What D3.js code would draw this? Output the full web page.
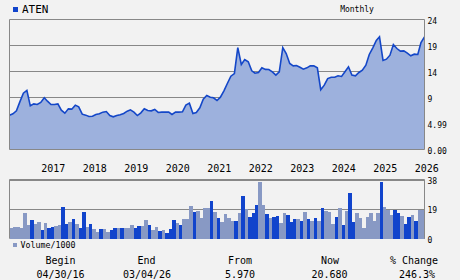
<!DOCTYPE html>
<html>
<head>
<meta charset="utf-8">
<script src="https://cdnjs.cloudflare.com/ajax/libs/d3/7.8.5/d3.min.js"></script>
<style>
  body { margin: 0; background: #f2f2f2; }
  text { font-family: "DejaVu Sans Mono", monospace; fill: #000; }
</style>
</head>
<body>
<svg id="chart" width="460" height="280"></svg>
<script>
// ---- data ----
const ticker = "ATEN";
const period = "Monthly";
const firstMonth = new Date(2016, 3, 1);   // Apr 2016

// month-end closes, Apr 2016 .. Mar 2026 plus last point
const prices = [
  6.28, 6.48, 6.94, 8.33, 9.83, 10.35, 7.72, 8.02, 7.92, 8.23,
  8.95, 8.43, 7.92, 7.92, 8.02, 7.05, 6.58, 7.25, 7.2, 7.82,
  7.56, 6.43, 6.28, 6.07, 6.12, 6.38, 6.48, 6.74, 6.84, 6.22,
  6.02, 6.22, 6.33, 6.53, 6.89, 7.1, 6.74, 6.22, 6.64, 7.25,
  7.0, 6.94, 7.15, 6.69, 6.74, 6.74, 6.74, 6.38, 6.74, 6.74,
  6.79, 7.82, 8.13, 6.53, 6.69, 7.41, 8.74, 9.38, 9.06, 8.95,
  8.54, 9.06, 10.28, 11.69, 13.1, 13.6, 18.6, 15.35, 16.3, 15.86,
  14.13, 13.68, 13.81, 14.7, 14.4, 14.38, 13.94, 13.29, 13.94, 18.6,
  17.46, 15.54, 15.09, 15.15, 14.83, 14.45, 14.7, 15.09, 15.09, 14.7,
  10.5, 11.37, 12.65, 12.9, 12.9, 13.17, 13.04, 13.94, 14.9, 13.3,
  13.17, 13.81, 14.26, 15.22, 17.27, 18.55, 19.96, 20.67, 16.12, 16.37,
  17.14, 19.19, 18.42, 17.91, 17.97, 17.53, 17.01, 17.33, 17.27, 19.58,
  20.67
];

// monthly volume / 1000
const volumes = [
  6.8, 7.5, 7.5, 6.8, 16.4, 8.8, 12.0, 9.4, 10.7, 5.6,
  10.0, 6.8, 7.5, 8.1, 8.8, 20.3, 9.4, 10.7, 12.6, 9.4,
  6.8, 17.1, 7.5, 9.4, 6.2, 4.3, 6.2, 6.2, 4.3, 5.6,
  6.8, 6.8, 6.8, 6.8, 6.8, 8.8, 6.8, 8.1, 8.1, 12.0,
  8.8, 5.6, 7.5, 4.9, 5.6, 3.6, 6.2, 12.0, 10.0, 8.8,
  12.6, 12.6, 20.9, 17.1, 17.7, 13.2, 19.6, 19.6, 24.1, 17.1,
  13.2, 10.7, 15.8, 13.2, 11.3, 11.3, 16.4, 27.3, 19.0, 13.9,
  16.4, 21.6, 36.3, 21.6, 15.8, 13.2, 13.9, 14.5, 10.0, 16.4,
  15.2, 10.7, 12.6, 12.6, 11.3, 17.1, 12.6, 11.3, 13.2, 11.3,
  19.6, 17.7, 17.1, 9.4, 13.9, 19.6, 8.8, 17.7, 29.2, 10.7,
  16.4, 13.2, 6.8, 13.9, 16.4, 11.3, 16.4, 36.3, 20.3, 18.6,
  15.2, 18.4, 16.4, 14.5, 9.4, 13.9, 15.2, 11.3, 18.4, 18.4
];
// 1 = dark bar, 0 = light bar
const volumeDark = [
  0,0,0,0,0,0,1,0,0,1, 0,1,1,0,0,1,1,0,1,0,
  1,1,0,1,0,0,1,0,0,1, 1,0,1,0,0,0,1,1,0,0,
  1,0,0,1,0,1,1,1,0,1, 0,0,0,1,0,0,0,0,1,0,
  1,0,0,0,0,1,0,1,0,1, 1,1,0,0,1,0,1,1,0,0,
  1,1,1,0,1,0,1,0,1,0, 1,0,0,0,1,0,1,0,1,1,
  0,0,0,0,0,0,0,1,0,0, 0,1,1,0,1,1,0,1,0,0
];

const priceTicks = [0, 4.99, 9, 14, 19, 24];
const priceTickLabels = ["0.00", "4.99", "9", "14", "19", "24"];
const volumeTicks = [0, 19, 38];
const summaryHeads = ["Begin", "End", "From", "Now", "% Change"];
const summaryValues = ["04/30/16", "03/04/26", "5.970", "20.680", "246.3%"];

// ---- drawing ----
let svg = d3.select("#chart");
let left = 9.5, right = 424.5;
let priceTop = 19.5, priceBottom = 149.5;
let volTop = 179.5, volBottom = 238.7;

let priceData = prices.map((v, i) => ({date: d3.timeMonth.offset(firstMonth, i), value: v}));
let volData = volumes.map((v, i) => ({date: d3.timeMonth.offset(firstMonth, i), value: v, dark: volumeDark[i]}));

let x = d3.scaleTime()
  .domain([firstMonth, d3.timeMonth.offset(firstMonth, prices.length - 1)])
  .range([left, right]);

// the tick rows are evenly spaced in the source, so use a piecewise scale
let step = (priceBottom - priceTop) / (priceTicks.length - 1);
let y = d3.scaleLinear()
  .domain(priceTicks)
  .range(priceTicks.map((d, i) => priceBottom - i * step));

let yVol = d3.scaleLinear().domain([0, 38]).range([volBottom, volTop]);

let gridColor = "#888";

// price gridlines
svg.append("g").selectAll("line").data(priceTicks.slice(1))
  .join("line")
  .attr("x1", left).attr("x2", right)
  .attr("y1", d => y(d)).attr("y2", d => y(d))
  .attr("stroke", gridColor).attr("stroke-width", 1);

let area = d3.area()
  .x(d => x(d.date))
  .y0(y(0))
  .y1(d => y(d.value));
let line = d3.line()
  .x(d => x(d.date))
  .y(d => y(d.value));

svg.append("path").datum(priceData)
  .attr("d", area)
  .attr("fill", "#9db1dd");
svg.append("path").datum(priceData)
  .attr("d", line)
  .attr("fill", "none")
  .attr("stroke", "#1447c8")
  .attr("stroke-width", 1.6)
  .attr("stroke-linejoin", "miter");

// price frame
svg.append("path")
  .attr("d", `M${left},${priceTop}V${priceBottom}H${right}V${priceTop}`)
  .attr("fill", "none").attr("stroke", gridColor);

// right price axis
let yAxis = d3.axisRight(y).tickValues(priceTicks)
  .tickFormat((d, i) => priceTickLabels[i]).tickSize(0).tickPadding(3);
let gy = svg.append("g").attr("transform", `translate(${right},0)`).call(yAxis);
gy.select(".domain").remove();
gy.selectAll("text").attr("font-size", 8).attr("font-family", "DejaVu Sans Mono").attr("dy", "0.45em");

// year labels
let xAxis = d3.axisBottom(x).ticks(d3.timeYear.every(1))
  .tickFormat(d3.timeFormat("%Y")).tickSize(0).tickPadding(0);
let gx = svg.append("g").attr("transform", "translate(0,166)").call(xAxis);
gx.select(".domain").remove();
gx.selectAll("text").attr("font-size", 10).attr("font-family", "DejaVu Sans Mono")
  .attr("text-anchor", "start").attr("dy", "0.6em");

// volume gridlines
svg.append("g").selectAll("line").data([19, 38])
  .join("line")
  .attr("x1", left).attr("x2", right)
  .attr("y1", d => Math.round(yVol(d)) + 0.5).attr("y2", d => Math.round(yVol(d)) + 0.5)
  .attr("stroke", gridColor);

// volume bars
svg.append("g").selectAll("rect").data(volData)
  .join("rect")
  .attr("x", d => x(d.date))
  .attr("width", d => x(d3.timeMonth.offset(d.date, 1)) - x(d.date))
  .attr("y", d => yVol(d.value))
  .attr("height", d => yVol(0) - yVol(d.value))
  .attr("fill", d => d.dark ? "#1144cc" : "#8899c4")
  .attr("shape-rendering", "crispEdges");

svg.append("path")
  .attr("d", `M${left},${volBottom}V${volTop}H${right}V${volBottom}`)
  .attr("fill", "none").attr("stroke", gridColor);

let yVolAxis = d3.axisRight(yVol).tickValues(volumeTicks).tickSize(0).tickPadding(3);
let gv = svg.append("g").attr("transform", `translate(${right},0)`).call(yVolAxis);
gv.select(".domain").remove();
gv.selectAll("text").attr("font-size", 8).attr("font-family", "DejaVu Sans Mono").attr("dy", "0.45em");

// title + legend
svg.append("rect").attr("x", 13).attr("y", 7).attr("width", 5).attr("height", 5).attr("fill", "#1144cc");
svg.append("text").attr("x", 22).attr("y", 13.3).attr("font-size", 11).text(ticker);
svg.append("text").attr("x", 357).attr("y", 12).attr("font-size", 8)
  .attr("text-anchor", "middle").text(period);

svg.append("rect").attr("x", 13).attr("y", 243).attr("width", 4).attr("height", 4).attr("fill", "#8899c4");
svg.append("text").attr("x", 20.5).attr("y", 247.7).attr("font-size", 8.3).text("Volume/1000");

// summary row
let headX = [60.5, 146.5, 240, 330, 414];
let valX = [60.5, 147, 240, 329.5, 417];
svg.append("g").selectAll("text").data(summaryHeads)
  .join("text")
  .attr("x", (d, i) => headX[i]).attr("y", 263.5)
  .attr("text-anchor", "middle").attr("font-size", 10)
  .text(d => d);
svg.append("g").selectAll("text").data(summaryValues)
  .join("text")
  .attr("x", (d, i) => valX[i]).attr("y", 277.5)
  .attr("text-anchor", "middle").attr("font-size", 10)
  .text(d => d);
</script>
</body>
</html>
